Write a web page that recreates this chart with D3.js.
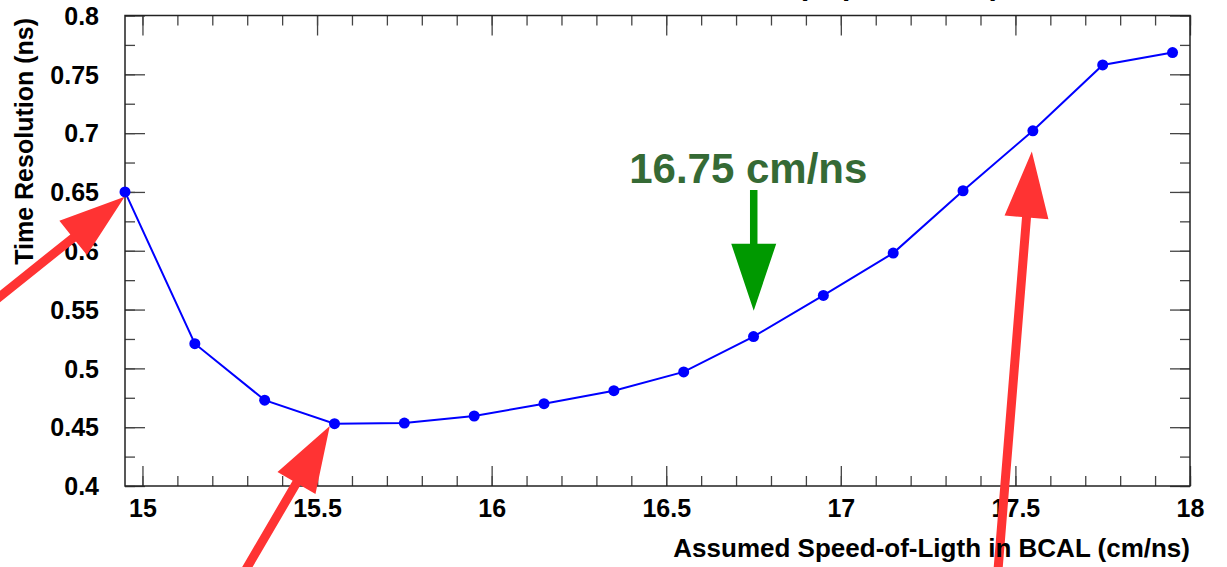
<!DOCTYPE html>
<html>
<head>
<meta charset="utf-8">
<script src="https://cdn.jsdelivr.net/npm/d3@7"></script>
<style>
  body { margin: 0; background: #fff; }
  text { font-family: "Liberation Sans", Arial, Helvetica, sans-serif; font-weight: bold; }
</style>
</head>
<body>
<script>
// measured points: assumed speed (cm/ns) vs time resolution (ns)
var speeds = [14.95, 15.15, 15.35, 15.55, 15.75, 15.95, 16.15, 16.35,
              16.55, 16.75, 16.95, 17.15, 17.35, 17.55, 17.75, 17.95];
var resolutions = [0.650, 0.521, 0.473, 0.453, 0.4535, 0.4595, 0.470, 0.481,
                   0.497, 0.527, 0.562, 0.598, 0.651, 0.702, 0.758, 0.7685];

var xTickValues = [15, 15.5, 16, 16.5, 17, 17.5, 18];
var yTickValues = [0.4, 0.45, 0.5, 0.55, 0.6, 0.65, 0.7, 0.75, 0.8];

var titleText = "BCAL Time Resolution, All Cosmic Events (Top Modules)";
var xTitle = "Assumed Speed-of-Ligth in BCAL (cm/ns)";
var yTitle = "Time Resolution (ns)";
var bestLabel = "16.75 cm/ns";

// annotation arrows, [tailSpeed, tailRes, tipSpeed, tipRes]
var redArrows = [
    [14.562, 0.554, 14.949, 0.646],
    [15.287, 0.3243, 15.5365, 0.451],
    [17.449, 0.3243, 17.547, 0.6843]
];
var greenArrow = [16.7506, 0.6517, 16.7506, 0.549];

var svg = d3.select("body")
    .append("svg")
    .attr("width", 1227)
    .attr("height", 567)
    .style("display", "block");
var margin = {top: 15.5, right: 37, bottom: 81, left: 125};
var width = +svg.attr("width") - margin.left - margin.right;
var height = +svg.attr("height") - margin.top - margin.bottom;
var g = svg.append("g").attr("transform", "translate(" + margin.left + "," + margin.top + ")");

var x = d3.scaleLinear().domain([14.95, 18]).range([0, width]);
var y = d3.scaleLinear().domain([0.4, 0.8]).range([height, 0]);

var fmt = function(d) { return String(+d.toFixed(2)); };

var xMinor = d3.range(15, 18.001, 0.1).map(function(d){ return +d.toFixed(1); });
var yMinor = d3.range(0.4, 0.8001, 0.025).map(function(d){ return +d.toFixed(3); });

function tickAxis(axis, vals, size) {
    return axis.tickValues(vals).tickSizeInner(-size).tickSizeOuter(0).tickFormat("");
}

function stripDomain(sel) {
    sel.select(".domain").remove();
    sel.selectAll("line").attr("stroke", "#444").attr("stroke-width", 1.3);
}

// minor + major ticks on all four sides
g.append("g").attr("transform", "translate(0," + height + ")")
    .call(tickAxis(d3.axisBottom(x), xMinor, 10)).call(stripDomain);
g.append("g").call(tickAxis(d3.axisTop(x), xMinor, 10)).call(stripDomain);
g.append("g").call(tickAxis(d3.axisLeft(y), yMinor, 10)).call(stripDomain);
g.append("g").attr("transform", "translate(" + width + ",0)")
    .call(tickAxis(d3.axisRight(y), yMinor, 10)).call(stripDomain);

g.append("g").call(tickAxis(d3.axisTop(x), xTickValues, 20)).call(stripDomain);
g.append("g").attr("transform", "translate(" + width + ",0)")
    .call(tickAxis(d3.axisRight(y), yTickValues, 20)).call(stripDomain);

// labelled axes
var xAxis = d3.axisBottom(x).tickValues(xTickValues).tickSizeInner(-20).tickSizeOuter(0).tickFormat(fmt);
var yAxis = d3.axisLeft(y).tickValues(yTickValues).tickSizeInner(-20).tickSizeOuter(0).tickFormat(fmt);

g.append("g")
    .attr("transform", "translate(0," + height + ")")
    .call(xAxis)
    .call(stripDomain)
    .selectAll("text")
    .attr("y", 31)
    .attr("dy", null)
    .attr("fill", "#000")
    .style("font-size", "25px");

g.append("g")
    .call(yAxis)
    .call(stripDomain)
    .selectAll("text")
    .attr("x", -26)
    .attr("dy", "0.35em")
    .attr("fill", "#000")
    .style("font-size", "25px");

// frame
g.append("rect")
    .attr("width", width)
    .attr("height", height)
    .attr("fill", "none")
    .attr("stroke", "#222")
    .attr("stroke-width", 1.5);

// data line + markers
var points = speeds.map(function(s, i){ return {speed: s, res: resolutions[i]}; });

g.append("path")
    .datum(points)
    .attr("fill", "none")
    .attr("stroke", "#0000ff")
    .attr("stroke-width", 2)
    .attr("d", d3.line().x(function(d){ return x(d.speed); }).y(function(d){ return y(d.res); }));

g.selectAll("circle")
    .data(points)
    .enter()
    .append("circle")
    .attr("cx", function(d){ return x(d.speed); })
    .attr("cy", function(d){ return y(d.res); })
    .attr("r", 5.5)
    .attr("fill", "#0000ff");

// block arrow polygon from tail to tip
function arrowPath(a, headLen, headW, shaftW) {
    var x1 = x(a[0]), y1 = y(a[1]), x2 = x(a[2]), y2 = y(a[3]);
    var dx = x2 - x1, dy = y2 - y1, len = Math.sqrt(dx*dx + dy*dy);
    var ux = dx/len, uy = dy/len, px = -uy, py = ux;
    var bx = x2 - ux*headLen, by = y2 - uy*headLen;
    var pts = [
        [x1 + px*shaftW/2, y1 + py*shaftW/2],
        [bx + px*shaftW/2, by + py*shaftW/2],
        [bx + px*headW/2, by + py*headW/2],
        [x2, y2],
        [bx - px*headW/2, by - py*headW/2],
        [bx - px*shaftW/2, by - py*shaftW/2],
        [x1 - px*shaftW/2, y1 - py*shaftW/2]
    ];
    return "M" + pts.map(function(p){ return p[0] + "," + p[1]; }).join("L") + "Z";
}

g.selectAll(".redArrow")
    .data(redArrows)
    .enter()
    .append("path")
    .attr("class", "redArrow")
    .attr("d", function(d){ return arrowPath(d, 66, 44, 9); })
    .attr("fill", "#ff3333");

g.append("path")
    .attr("d", arrowPath(greenArrow, 67, 45, 7.5))
    .attr("fill", "#009900");

g.append("text")
    .attr("x", x(16.735))
    .attr("y", y(0.6575))
    .attr("text-anchor", "middle")
    .attr("fill", "#356a35")
    .style("font-size", "42px")
    .text(bestLabel);

// titles (the plot title sits mostly above the page edge, as in the source)
svg.append("text")
    .attr("x", 188)
    .attr("y", -5)
    .style("font-size", "30px")
    .text(titleText);

svg.append("text")
    .attr("x", 1190)
    .attr("y", 557)
    .attr("text-anchor", "end")
    .style("font-size", "26px")
    .text(xTitle);

svg.append("text")
    .attr("transform", "translate(33,18) rotate(-90)")
    .attr("text-anchor", "end")
    .style("font-size", "25px")
    .text(yTitle);
</script>
</body>
</html>
